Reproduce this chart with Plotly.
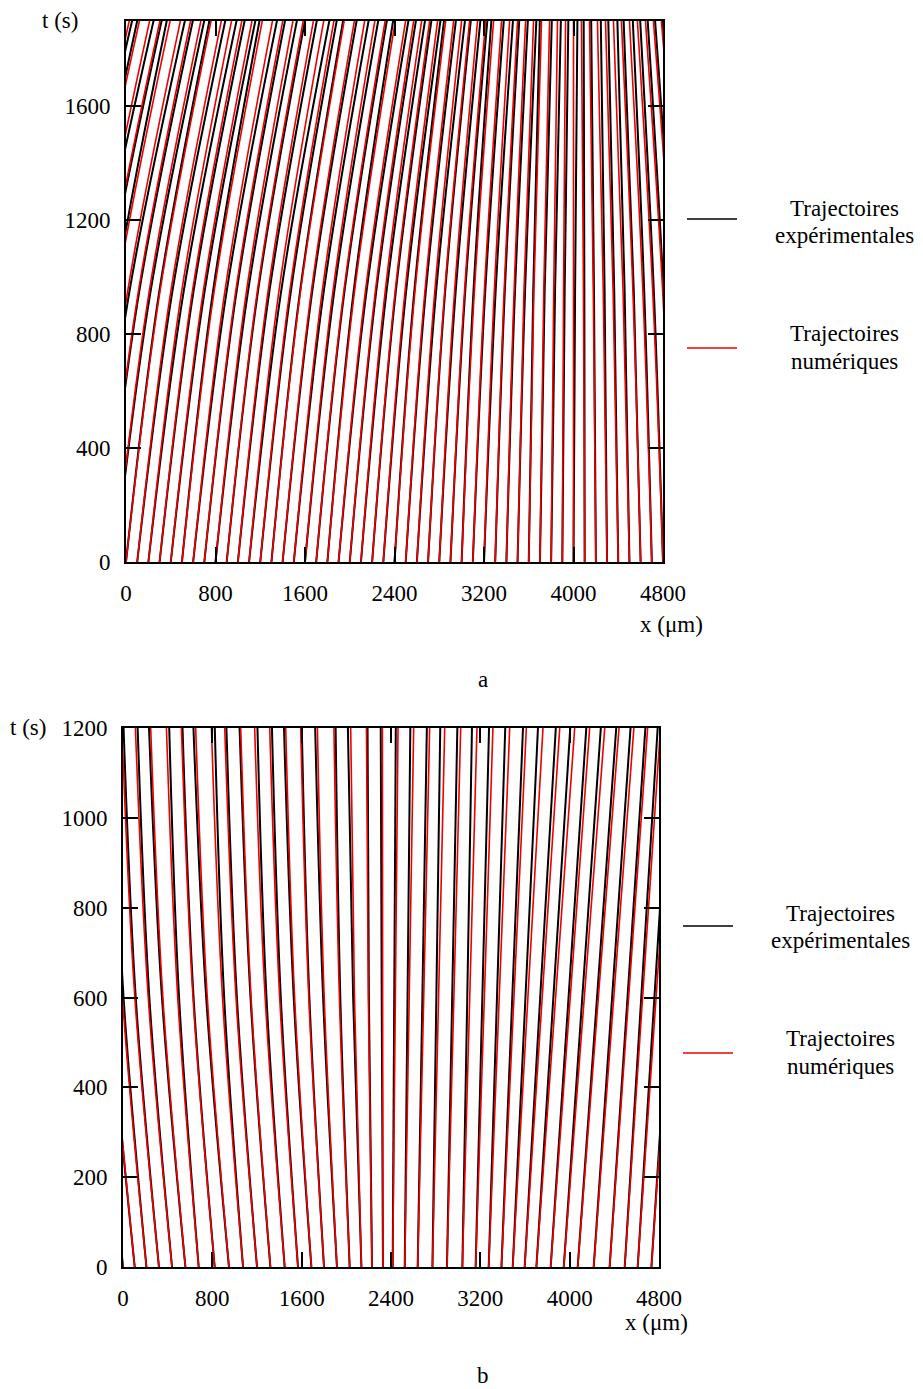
import plotly.graph_objects as go

# ---------------- panel a data (x in µm at given times) ----------------
A_TIMES = [0, 950, 1900]
A_X0 = [-800, -700, -600, -500, -400, -300, -200, -100, 0, 100, 200, 300, 400, 500, 600,
        700, 800, 900, 1000, 1100, 1200, 1300, 1400, 1500, 1600, 1700, 1800, 1900, 2000,
        2100, 2200, 2300, 2400, 2500, 2600, 2700, 2800, 2900, 3000, 3100, 3200, 3300, 3400,
        3500, 3600, 3700, 3800, 3900, 4000, 4100, 4200, 4300, 4400, 4500, 4600, 4700, 4800,
        4900, 5000, 5100]
A_RED_MID = [-468, -372, -275, -178, -82, 15, 111, 208, 304, 401, 498, 594, 691, 788, 884,
             981, 1077, 1174, 1270, 1367, 1464, 1560, 1657, 1754, 1850, 1947, 2043, 2140, 2229,
             2317, 2406, 2494, 2583, 2672, 2760, 2849, 2937, 3026, 3114, 3203, 3292, 3380, 3469,
             3557, 3646, 3734, 3823, 3911, 4000, 4089, 4177, 4266, 4354, 4443, 4531, 4620, 4708,
             4797, 4886, 4974]
A_RED_TOP = [30, 121, 212, 304, 395, 487, 578, 670, 761, 853, 944, 1036, 1127, 1219, 1310,
             1402, 1493, 1585, 1676, 1768, 1859, 1951, 2042, 2134, 2225, 2317, 2408, 2500, 2572,
             2643, 2715, 2786, 2858, 2929, 3000, 3072, 3143, 3215, 3286, 3357, 3429, 3500, 3572,
             3643, 3714, 3786, 3857, 3929, 4000, 4071, 4143, 4214, 4286, 4357, 4428, 4500, 4571,
             4643, 4714, 4785]
A_BLK_MID = [-458, -380, -261, -172, -94, 31, 119, 220, 298, 415, 516, 604, 703, 778, 900,
             989, 1091, 1180, 1282, 1387, 1474, 1556, 1665, 1768, 1862, 1953, 2035, 2150, 2237,
             2329, 2412, 2504, 2577, 2680, 2772, 2853, 2947, 3032, 3106, 3211, 3304, 3386, 3477,
             3567, 3640, 3742, 3835, 3921, 4014, 4097, 4183, 4278, 4364, 4457, 4539, 4632, 4718,
             4805, 4892, 4978]
A_BLK_TOP = [55, 101, 247, 319, 365, 527, 598, 700, 746, 888, 989, 1061, 1157, 1194, 1350,
             1422, 1528, 1600, 1706, 1818, 1884, 1941, 2062, 2169, 2255, 2332, 2388, 2525, 2592,
             2673, 2730, 2811, 2843, 2949, 3030, 3082, 3168, 3230, 3266, 3377, 3459, 3515, 3592,
             3668, 3699, 3806, 3887, 3954, 4035, 4091, 4158, 4244, 4311, 4392, 4448, 4530, 4596,
             4663, 4729, 4795]

# ---------------- panel b data ----------------
B_TIMES = [0, 600, 1200]
B_X0 = [0, 105, 210, 322, 439, 559, 678, 821, 949, 1075, 1200, 1320, 1448, 1567, 1687, 1800,
        1916, 2030, 2135, 2230, 2328, 2415, 2523, 2639, 2771, 2901, 3039, 3158, 3275, 3389,
        3490, 3597, 3702, 3830, 3947, 4072, 4215, 4358, 4493, 4609, 4732]
B_RED_MID = [-221, -113, -5, 106, 226, 357, 490, 627, 755, 891, 1012, 1147, 1273, 1403, 1537,
             1664, 1802, 1938, 2073, 2197, 2325, 2439, 2563, 2693, 2826, 2963, 3105, 3236, 3369,
             3501, 3626, 3754, 3874, 4005, 4131, 4257, 4395, 4528, 4653, 4774, 4897]
B_RED_TOP = [-340, -230, -120, -10, 111, 248, 389, 523, 651, 792, 911, 1054, 1179, 1314, 1457,
             1591, 1741, 1889, 2039, 2180, 2323, 2463, 2603, 2746, 2881, 3024, 3170, 3313, 3463,
             3612, 3761, 3911, 4045, 4179, 4314, 4442, 4575, 4698, 4813, 4939, 5062]
B_BLK_MID = [-213, -118, 5, 114, 236, 349, 502, 632, 745, 906, 1020, 1142, 1285, 1413, 1529,
             1669, 1792, 1946, 2061, 2202, 2317, 2429, 2548, 2681, 2806, 2948, 3083, 3218, 3349,
             3486, 3604, 3736, 3854, 3990, 4113, 4245, 4380, 4518, 4641, 4759, 4887]
B_BLK_TOP = [-325, -240, -100, 5, 131, 233, 414, 533, 631, 822, 926, 1044, 1204, 1334, 1442,
             1601, 1721, 1904, 2014, 2190, 2308, 2443, 2573, 2721, 2841, 2994, 3125, 3278, 3423,
             3582, 3716, 3876, 4005, 4149, 4279, 4417, 4545, 4678, 4788, 4909, 5042]

A_XTICKS = [0, 800, 1600, 2400, 3200, 4000, 4800]
A_YTICKS = [0, 400, 800, 1200, 1600]
B_XTICKS = [0, 800, 1600, 2400, 3200, 4000, 4800]
B_YTICKS = [0, 200, 400, 600, 800, 1000, 1200]

LEG_EXP = ["Trajectoires", "expérimentales"]
LEG_NUM = ["Trajectoires", "numériques"]

FONT = "Liberation Serif, Times New Roman, serif"
OFF = 8                      # default page margin of the html body
W, H = 923 - OFF, 1389 - OFF

fig = go.Figure()


def add_lines(xa, ya, x0s, mids, tops, times, color, width):
    xs, ys = [], []
    for a, b, c in zip(x0s, mids, tops):
        xs += [a, b, c, None]
        ys += [times[0], times[1], times[2], None]
    fig.add_trace(go.Scatter(x=xs, y=ys, mode="lines",
                             line=dict(color=color, width=width, shape="spline", smoothing=1),
                             xaxis=xa, yaxis=ya, showlegend=False, hoverinfo="skip"))


add_lines("x", "y", A_X0, A_BLK_MID, A_BLK_TOP, A_TIMES, "black", 2)
add_lines("x", "y", A_X0, A_RED_MID, A_RED_TOP, A_TIMES, "#ee0000", 1.6)
add_lines("x2", "y2", B_X0, B_BLK_MID, B_BLK_TOP, B_TIMES, "black", 2)
add_lines("x2", "y2", B_X0, B_RED_MID, B_RED_TOP, B_TIMES, "#ee0000", 1.6)


def px(x):
    return (x - OFF) / W


def py(y):
    return 1 - (y - OFF) / H


axis_common = dict(ticks="inside", ticklen=15, tickwidth=1.5, tickcolor="black",
                   showline=True, linecolor="black", linewidth=2, mirror="ticks",
                   showgrid=False, zeroline=False, automargin=False,
                   tickfont=dict(family=FONT, size=23, color="black"))

fig.update_layout(
    width=W, height=H, margin=dict(l=0, r=0, t=0, b=0, pad=0), autosize=False,
    paper_bgcolor="white", plot_bgcolor="white", showlegend=False,
    xaxis=dict(domain=[px(126), px(663)], anchor="y", range=[0, 4800],
               tickvals=A_XTICKS, ticklabelstandoff=9, **axis_common),
    yaxis=dict(domain=[py(562), py(21)], anchor="x", range=[0, 1898],
               tickvals=A_YTICKS, ticklabelstandoff=9, **axis_common),
    xaxis2=dict(domain=[px(123), px(659)], anchor="y2", range=[0, 4800],
                tickvals=B_XTICKS, ticklabelstandoff=9, **axis_common),
    yaxis2=dict(domain=[py(1267), py(728)], anchor="x2", range=[0, 1200],
                tickvals=B_YTICKS, ticklabelstandoff=9, **axis_common),
)

ann = []


def text(x, y, s, size=23):
    ann.append(dict(x=px(x), y=py(y), xref="paper", yref="paper", text=s, showarrow=False,
                    xanchor="center", yanchor="middle",
                    font=dict(family=FONT, size=size, color="black")))


text(60, 21, "t (s)")
text(671, 625, "x (μm)")
text(483, 679, "a")
text(844, 208, LEG_EXP[0]); text(844, 236, LEG_EXP[1])
text(844, 333, LEG_NUM[0]); text(844, 361, LEG_NUM[1])

text(28, 727, "t (s)")
text(656, 1322, "x (μm)")
text(483, 1375, "b")
text(840, 913, LEG_EXP[0]); text(840, 941, LEG_EXP[1])
text(840, 1038, LEG_NUM[0]); text(840, 1066, LEG_NUM[1])

shapes = [
    dict(type="line", xref="paper", yref="paper", x0=px(687), x1=px(737), y0=py(219), y1=py(219),
         line=dict(color="black", width=1.5)),
    dict(type="line", xref="paper", yref="paper", x0=px(687), x1=px(737), y0=py(348), y1=py(348),
         line=dict(color="#ee0000", width=1.5)),
    dict(type="line", xref="paper", yref="paper", x0=px(683), x1=px(733), y0=py(926), y1=py(926),
         line=dict(color="black", width=1.5)),
    dict(type="line", xref="paper", yref="paper", x0=px(683), x1=px(733), y0=py(1053), y1=py(1053),
         line=dict(color="#ee0000", width=1.5)),
]
fig.update_layout(annotations=ann, shapes=shapes)

fig.write_html("out.html")
